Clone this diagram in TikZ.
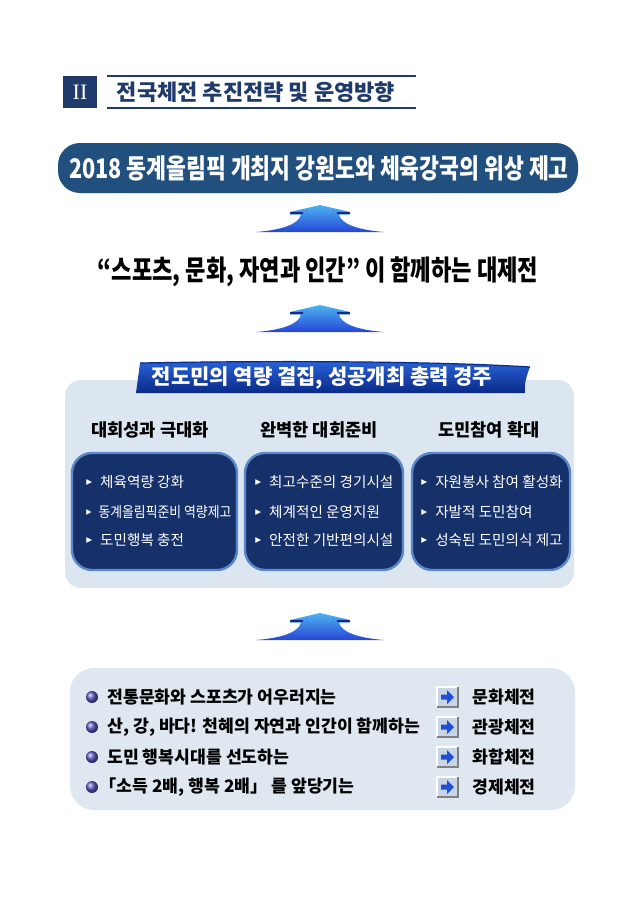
\documentclass[tikz,border=0pt]{standalone}
\usepackage{fontspec}
\setmainfont{Noto Sans CJK KR}
\newfontfamily\numfont{Liberation Serif}
\newfontfamily\symfont{DejaVu Sans}
\usepackage{tikz}
\usetikzlibrary{positioning, arrows.meta, shapes.geometric}
\usepackage{xcolor}

\definecolor{headnavy}{HTML}{1F3A6B}
\definecolor{goalblue}{HTML}{22507E}
\definecolor{panelgray}{HTML}{DCE6F1}
\definecolor{lowpanel}{HTML}{DFE7F1}
\definecolor{boxnavy}{HTML}{16306A}
\definecolor{boxedge}{HTML}{5C88C8}
\definecolor{ribbontop}{HTML}{2A63D8}
\definecolor{ribbonmid}{HTML}{1448BC}
\definecolor{ribbonlow}{HTML}{0A2A88}
\definecolor{fantop}{HTML}{4DB2F0}
\definecolor{fanlow}{HTML}{2546D6}
\definecolor{balltone}{HTML}{5B5BC6}
\definecolor{iconface}{HTML}{C9D4E4}
\definecolor{iconarrow}{HTML}{1F4FD8}

\newcommand{\itemtri}{\raisebox{1.3pt}{\symfont\fontsize{3.8}{4}\selectfont ▶}\hspace{4pt}}

\tikzset{
    colhead/.style={font=\fontsize{8.8}{11}\selectfont\bfseries, black},
    itemtext/.style={font=\fontsize{7.3}{9}\selectfont, white, anchor=west, inner sep=0pt},
    rowtext/.style={font=\fontsize{8.6}{11}\selectfont\bfseries, black, anchor=west, inner sep=0pt},
    darkbox/.style={fill=boxnavy, draw=boxedge, line width=1.2pt, rounded corners=10pt},
}

\begin{document}
\begin{tikzpicture}[x=0.5pt, y=-0.5pt]
    \useasboundingbox (0,0) rectangle (640,905);

    % Section heading
    \fill[headnavy] (63,76) rectangle (97,108);
    \node[white, font=\numfont\fontsize{11}{11}\selectfont] (secnum) at (80,92) {II};
    \draw[headnavy, line width=0.8pt] (107,76) -- (416,76);
    \draw[headnavy, line width=0.8pt] (107,108) -- (416,108);
    \node[headnavy, font=\fontsize{11}{13}\selectfont\bfseries] (sectitle) at (256,92) {전국체전 추진전략 및 운영방향};

    % Goal banner
    \fill[goalblue, rounded corners=11pt] (58,143) rectangle (578,193);
    \node[white, font=\fontsize{13.5}{15}\selectfont\bfseries, xscale=0.8] (goal) at (319,168) {2018 동계올림픽 개최지 강원도와 체육강국의 위상 제고};

    % Vision line
    \node[black, font=\fontsize{14}{16}\selectfont\bfseries, xscale=0.79] (vision) at (318,272) {“스포츠, 문화, 자연과 인간” 이 함께하는 대제전};

    % Fan arrows pointing up
    \foreach \ay in {205,305,613} {
        \begin{scope}[shift={(320,\ay)}]
            \shade[top color=fantop, bottom color=fanlow]
                (0,0) -- (30,7) -- (30,9.5) -- (19,9.5)
                .. controls (21,19) and (38,25) .. (64,27) -- (-64,27)
                .. controls (-38,25) and (-21,19) .. (-19,9.5)
                -- (-30,9.5) -- (-30,7) -- cycle;
            \draw[fanlow!60!black, line width=0.9pt] (-30,8) -- (-17,8);
            \draw[fanlow!60!black, line width=0.9pt] (17,8) -- (30,8);
        \end{scope}
    }

    % Strategy panel
    \fill[panelgray, rounded corners=8pt] (65,380) rectangle (574,588);
    \shade[top color=ribbontop, middle color=ribbonmid, bottom color=ribbonlow]
        (140,363) .. controls (300,360) and (450,362) .. (530,367)
        .. controls (526,377) and (524,385) .. (525,393) -- (136,393) -- cycle;
    \draw[ribbonlow, line width=0.6pt] (140,363) .. controls (300,360) and (450,362) .. (530,367);
    \node[white, font=\fontsize{10.5}{13}\selectfont\bfseries] (ribbon) at (322,378) {전도민의 역량 결집, 성공개최 총력 경주};

    \node[colhead] (headA) at (150,430) {대회성과 극대화};
    \node[colhead] (headB) at (319,430) {완벽한 대회준비};
    \node[colhead] (headC) at (489,430) {도민참여 확대};

    \draw[darkbox] (72,453) rectangle (237,570);
    \draw[darkbox] (245,453) rectangle (403,570);
    \draw[darkbox] (412,453) rectangle (570,570);

    \node[itemtext] (itemA1) at (86,482) {\itemtri 체육역량 강화};
    \node[itemtext, xscale=0.88] (itemA2) at (86,512) {\itemtri 동계올림픽준비 역량제고};
    \node[itemtext] (itemA3) at (86,540) {\itemtri 도민행복 충전};
    \node[itemtext] (itemB1) at (255,482) {\itemtri 최고수준의 경기시설};
    \node[itemtext] (itemB2) at (255,512) {\itemtri 체계적인 운영지원};
    \node[itemtext] (itemB3) at (255,540) {\itemtri 안전한 기반편의시설};
    \node[itemtext] (itemC1) at (421,482) {\itemtri 자원봉사 참여 활성화};
    \node[itemtext] (itemC2) at (421,512) {\itemtri 자발적 도민참여};
    \node[itemtext] (itemC3) at (421,540) {\itemtri 성숙된 도민의식 제고};

    % Festival themes panel
    \fill[lowpanel, rounded corners=12pt] (70,668) rectangle (575,810);
    \foreach \ry in {697,727,757,787} {
        \shade[ball color=balltone] (92,\ry) circle (6);
        \fill[iconface] (437,{\ry-10}) rectangle (458,{\ry+10});
        \draw[white, line width=0.8pt] (437,{\ry+10}) -- (437,{\ry-10}) -- (458,{\ry-10});
        \draw[gray, line width=0.8pt] (458,{\ry-10}) -- (458,{\ry+10}) -- (437,{\ry+10});
        \fill[iconarrow] (441,{\ry-2.5}) -- (447,{\ry-2.5}) -- (447,{\ry-7}) -- (454,\ry)
            -- (447,{\ry+7}) -- (447,{\ry+2.5}) -- (441,{\ry+2.5}) -- cycle;
    }
    \node[rowtext] (rowA) at (107,697) {전통문화와 스포츠가 어우러지는};
    \node[rowtext] (rowB) at (107,727) {산, 강, 바다! 천혜의 자연과 인간이 함께하는};
    \node[rowtext] (rowC) at (107,757) {도민 행복시대를 선도하는};
    \node[rowtext] (rowD) at (99,787) {「소득 2배, 행복 2배」 를 앞당기는};
    \node[rowtext] (themeA) at (472,697) {문화체전};
    \node[rowtext] (themeB) at (472,727) {관광체전};
    \node[rowtext] (themeC) at (472,757) {화합체전};
    \node[rowtext] (themeD) at (472,787) {경제체전};
\end{tikzpicture}
\end{document}
